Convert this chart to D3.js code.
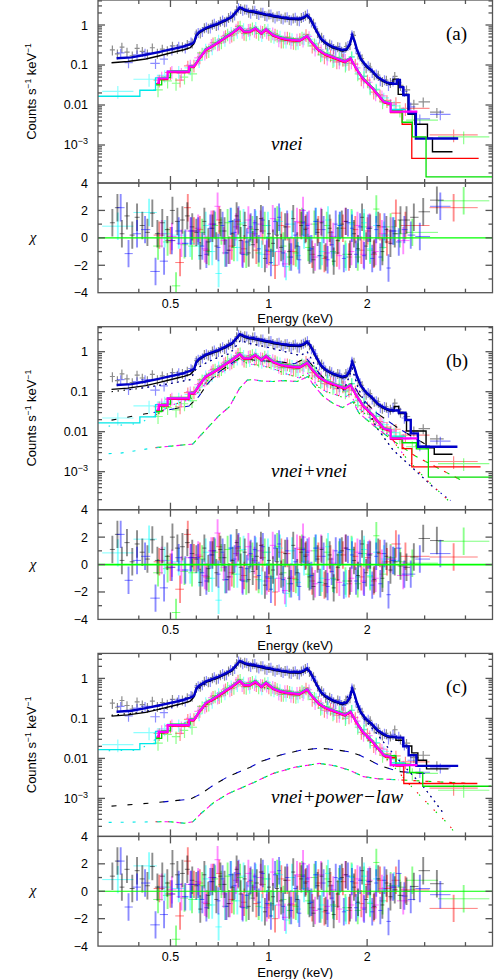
<!DOCTYPE html>
<html>
<head>
<meta charset="utf-8">
<script src="https://cdn.jsdelivr.net/npm/d3@7"></script>
<style>
body { margin: 0; background: #fff; }
svg { display: block; }
text { font-family: "Liberation Sans", Arial, sans-serif; fill: #000; }
.serif { font-family: "Liberation Serif", "Times New Roman", serif; }
</style>
</head>
<body>
<svg id="chart" width="496" height="979"></svg>
<script>
const panelTags = ['(a)', '(b)', '(c)'];
const modelNames = ['vnei', 'vnei+vnei', 'vnei+power\u2212law'];
const energyTicks = [0.5, 1, 2];
const energyMinor = [0.4, 0.6, 0.7, 0.8, 0.9, 3, 4];
const rateTicks = [1, 0.1, 0.01, 0.001];
const rateTickLabels = ['1', '0.1', '0.01', '10^\u22123'];
const chiTicks = [4, 2, 0, -2, -4];
const relErrHi = 0.28, relErrLo = 0.35;

// spectra (counts s-1 keV-1), same data in all three fits
const eBlk = [0.332,0.344,0.355,0.368,0.382,0.395,0.410,0.425,0.440,0.456,0.472,0.489,0.507,0.525,0.544,0.563,0.583,
  0.600,0.617,0.635,0.653,0.672,0.691,0.711,0.732,0.753,0.775,0.797,0.820,0.844,0.868,0.893,0.919,0.946,0.973,1.001,1.030,
  1.060,1.091,1.122,1.155,1.188,1.222,1.258,1.294,1.332,1.370,1.410,1.451,1.493,1.536,1.580,1.626,1.673,1.722,1.772,1.823,
  1.876,1.930,1.986,2.044,2.103,2.164,2.227,2.291,2.357, 2.43,2.53,2.64,2.78,2.97,3.27];
const rBlk = [0.24,0.19,0.28,0.21,0.17,0.26,0.22,0.19,0.27,0.20,0.25,0.23,0.30,0.26,0.29,0.33,0.36,
  0.60,0.64,0.86,0.84,1.05,0.98,1.25,1.22,1.55,1.60,2.40,2.60,2.55,2.10,2.35,1.95,2.10,1.75,1.90,1.62,
  1.70,1.50,1.60,1.38,1.52,1.33,1.55,1.78,1.50,1.12,0.66,0.50,0.34,0.34,0.26,0.29,0.22,0.29,0.33,0.55,
  0.19,0.145,0.087,0.089,0.058,0.056,0.039,0.042,0.037, 0.052,0.031,0.024,0.0105,0.012,0.0066];
const chiBlk = [1.1,2.2,0.3,1.6,0.2,1.5,0.9,0.4,1.8,0.3,1.1,0.6,2.0,1.2,1.3,1.6,0.8,
  0.4,-1.3,1.2,-0.3,0.7,-0.6,1.1,0.5,-0.9,0.3,1.6,-0.2,0.9,-1.1,-0.5,0.6,1.4,-1.5,0.3,-0.4,
  0.2,-0.7,0.8,-1.0,1.4,-0.6,0.9,0.6,-0.9,-1.6,0.4,1.1,-1.4,0.7,-1.7,-0.2,1.0,1.2,-1.2,0.3,
  -0.8,1.5,-0.6,0.7,-1.1,0.9,-1.0,0.6,-0.4];
const tailBlk = [[0.3,1.3,1.3,1.5,1.9,2.75], [0.2,-0.1,-0.2,0.55,1.9,1.75], [0.1,-0.3,0.0,0.35,1.5,0.55]];

const eBlu = [0.352,0.372,0.395,0.418,0.450,0.478,0.505,0.530,0.555,0.578,
  0.608,0.626,0.644,0.662,0.681,0.701,0.722,0.742,0.764,0.786,0.808,0.832,0.856,0.880,0.906,0.932,0.959,0.987,1.015,1.045,
  1.075,1.106,1.138,1.171,1.205,1.240,1.276,1.313,1.351,1.390,1.430,1.472,1.514,1.558,1.603,1.649,1.697,1.747,1.797,1.849,
  1.903,1.958,2.015,2.073,2.133,2.195,2.260,2.325, 2.40,2.50,2.60,2.72,2.90,3.35];
const rBlu = [0.20,0.115,0.18,0.20,0.11,0.14,0.24,0.30,0.27,0.38,
  0.66,0.70,0.90,0.85,1.12,1.02,1.35,1.25,1.70,1.80,2.75,2.35,2.50,2.00,2.38,1.85,2.10,1.70,1.92,1.52,
  1.75,1.42,1.62,1.35,1.58,1.30,1.65,1.90,1.20,0.90,0.48,0.44,0.30,0.32,0.24,0.28,0.21,0.31,0.58,0.26,
  0.17,0.10,0.097,0.066,0.06,0.041,0.043,0.031, 0.040,0.036,0.022,0.009,0.0045,0.0058];
const chiBlu = [2.2,-1.15,0.3,0.6,-2.45,-1.7,-0.2,0.5,-0.4,0.5,
  0.5,-0.6,-1.2,0.7,1.0,-0.7,0.9,-1.1,1.2,0.4,1.3,-1.2,-0.3,0.8,1.1,-0.8,1.3,-0.9,-1.8,1.2,
  1.5,-1.1,1.0,-1.4,0.2,-1.6,1.1,0.9,-0.8,1.2,-1.3,0.6,-1.6,-0.5,1.0,0.9,-1.5,1.1,0.7,-1.2,
  0.8,-1.3,0.7,-1.5,0.6,-1.4,0.8,-2.2];
const tailBlu = [[0.5,-0.3,0.6,0.2,0.1,2.3], [0.3,1.2,-0.7,-0.7,0.4,0.8], [0.3,1.3,-0.35,-0.6,0.2,-0.25]];

const eRed = [0.462,0.500,0.535,0.565,0.590,
  0.615,0.645,0.675,0.705,0.737,0.770,0.805,0.840,0.877,0.916,0.957,1.000,1.045,1.092,1.140,1.190,1.245,1.300,1.358,1.418,
  1.480,1.545,1.615,1.686,1.760,1.840,1.920,2.005,2.095,2.190, 2.30,2.45,2.62,3.68];
const rRed = [0.042,0.065,0.042,0.095,0.10,
  0.16,0.22,0.36,0.35,0.55,0.56,0.92,0.62,0.80,0.70,0.70,0.62,0.60,0.40,0.50,0.37,0.46,0.58,0.30,0.27,
  0.16,0.18,0.12,0.14,0.11,0.105,0.045,0.042,0.021,0.018, 0.013,0.0115,0.0082,0.0018];
const chiRed = [0.2,-0.2,-1.8,2.2,0.5,
  0.6,-0.9,1.0,1.3,-1.1,-0.6,1.2,-0.8,0.7,-0.9,0.5,-1.0,-2.0,0.9,0.8,-1.0,1.1,0.7,-1.2,0.6,
  -1.5,0.4,-1.1,0.7,-1.4,0.6,-0.9,0.5,-1.2,0.8];
const tailRed = [[-0.3,1.8,0.9,2.2], [0.2,1.5,0.6,0.55], [0.2,0.8,0.1,-1.25]];

const eGrn = [0.458,0.490,0.520,0.552,0.582,
  0.625,0.655,0.685,0.716,0.748,0.782,0.817,0.853,0.891,0.931,0.972,1.016,1.061,1.108,1.158,1.210,1.264,1.320,1.379,1.441,
  1.505,1.572,1.642,1.716,1.792,1.872,1.956,2.043,2.134,2.230, 2.36,2.52,2.75,3.95];
const rGrn = [0.024,0.040,0.035,0.050,0.060,
  0.20,0.23,0.37,0.38,0.60,0.60,0.95,0.60,0.85,0.62,0.78,0.55,0.56,0.40,0.48,0.36,0.50,0.44,0.34,0.18,
  0.20,0.13,0.15,0.10,0.16,0.06,0.052,0.027,0.024,0.012, 0.0098,0.0075,0.0042,0.0016];
const chiGrn = [-0.6,-0.3,-3.5,-0.5,-0.6,
  0.4,-1.0,0.9,0.5,1.1,-0.7,1.0,-1.2,0.6,-1.1,0.9,-0.9,1.3,-0.6,-1.4,-1.1,1.2,-0.7,1.0,-1.3,
  0.9,-1.0,0.7,-1.2,1.1,-1.4,0.8,-0.9,2.1,-0.7];
const tailGrn = [[0.8,0.3,0.4,2.7], [0.5,0.2,0.1,1.7], [0.4,0.3,0.8,-0.55]];

const eMag = [0.470,0.505,0.540,0.575,
  0.608,0.637,0.667,0.697,0.728,0.760,0.794,0.829,0.866,0.904,0.944,0.985,1.028,1.073,1.120,1.169,1.220,1.273,1.328,1.386,
  1.446,1.509,1.575,1.644,1.716,1.790,1.868,1.950,2.035,2.124, 2.22,2.36,2.58];
const rMag = [0.050,0.070,0.062,0.10,
  0.15,0.20,0.33,0.34,0.52,0.52,0.80,0.70,0.78,0.74,0.72,0.68,0.64,0.43,0.50,0.38,0.45,0.42,0.52,0.25,
  0.24,0.15,0.17,0.12,0.14,0.12,0.085,0.040,0.037,0.019, 0.017,0.0105,0.0065];
const chiMag = [0.3,0.1,-0.4,0.5,
  0.7,-0.8,1.0,2.3,-0.2,-0.9,0.8,-1.1,1.3,0.3,1.0,-1.2,1.4,-1.0,-1.9,-0.9,1.2,2.0,1.0,-1.4,
  1.2,-1.1,0.1,-1.3,1.2,-1.0,0.9,-1.2,0.8,-1.0];
const tailMag = [[0.3,0.5,-0.2], [0.1,0.4,-0.8], [0.2,0.3,-0.7]];

const eCyn = [0.345,0.430,0.480,0.530,0.575,
  0.612,0.641,0.671,0.702,0.734,0.767,0.801,0.837,0.874,0.912,0.952,0.994,1.037,1.082,1.129,1.178,1.229,1.282,1.337,1.395,
  1.455,1.518,1.584,1.652,1.723,1.798,1.876,1.957,2.042,2.131, 2.25,2.42];
const rCyn = [0.022,0.044,0.055,0.070,0.085,
  0.13,0.25,0.27,0.42,0.44,0.66,0.70,0.82,0.64,0.88,0.58,0.80,0.52,0.53,0.40,0.46,0.37,0.48,0.44,0.32,
  0.19,0.19,0.14,0.15,0.11,0.16,0.065,0.053,0.029,0.025, 0.015,0.0095];
const chiCyn = [0.85,1.85,0.3,0.2,-0.4,
  -0.6,0.9,-1.0,-2.6,-1.1,1.2,-0.7,1.1,0.4,1.0,-1.2,0.9,-1.0,1.2,-2.1,1.0,-1.3,0.2,-0.8,1.2,
  -1.0,1.3,-1.1,0.9,-1.4,1.0,-0.9,1.1,-0.8,0.9];
const tailCyn = [[0.2,0.5], [0.4,0.3], [0.1,0.4]];

// folded total models [keV, counts s-1 keV-1]
const modLowBlk = [[0.33,0.121],[0.37,0.13],[0.42,0.15],[0.46,0.178],[0.51,0.22],[0.55,0.255],[0.575,0.287],[0.59,0.36]];
const modLowBlu = [[0.342,0.147],[0.38,0.155],[0.42,0.18],[0.46,0.21],[0.5,0.245],[0.54,0.28],[0.575,0.33],[0.59,0.36]];
const modBulkHi = [[0.59,0.36],[0.60,0.56],[0.614,0.68],[0.64,0.83],[0.66,0.92],[0.68,1.0],[0.70,1.1],[0.73,1.28],[0.77,1.61],
  [0.80,2.3],[0.815,2.75],[0.83,2.6],[0.845,2.37],[0.87,2.25],[0.89,2.2],[0.92,2.08],[0.95,1.96],[0.98,1.85],[1.0,1.8],
  [1.04,1.68],[1.09,1.57],[1.15,1.47],[1.2,1.44],[1.25,1.45],[1.28,1.55],[1.31,1.78],[1.335,1.5],[1.36,1.15],[1.39,0.8],
  [1.42,0.58],[1.45,0.44],[1.5,0.35],[1.56,0.29],[1.62,0.26],[1.68,0.237],[1.73,0.25],[1.77,0.33],[1.80,0.56],[1.83,0.4],
  [1.86,0.25],[1.91,0.147],[1.96,0.11],[2.0,0.091],[2.06,0.075],[2.15,0.051],[2.25,0.04],[2.33,0.035]];
const modLowRed = [[0.452,0.036],[0.462,0.046],[0.49,0.068],[0.57,0.091],[0.59,0.091]];
const modLowGrn = [[0.45,0.03],[0.47,0.046],[0.5,0.068],[0.575,0.091],[0.59,0.091]];
const modLowMag = [[0.455,0.036],[0.46,0.046],[0.49,0.068],[0.57,0.091],[0.59,0.091]];
const modLowCyn = [[0.30,0.016],[0.403,0.0226],[0.45,0.046],[0.49,0.068],[0.57,0.091],[0.59,0.091]];
const modBulkLo = [[0.59,0.091],[0.61,0.139],[0.64,0.237],[0.68,0.316],[0.73,0.465],[0.77,0.62],[0.815,0.875],[0.84,0.68],
  [0.875,0.68],[0.91,0.83],[0.95,0.62],[0.98,0.78],[1.03,0.56],[1.08,0.48],[1.13,0.44],[1.24,0.405],[1.31,0.53],[1.35,0.38],
  [1.42,0.237],[1.49,0.185],[1.56,0.16],[1.65,0.135],[1.71,0.121],[1.78,0.147],[1.85,0.083],[1.94,0.046],[2.0,0.036],
  [2.08,0.026],[2.16,0.018],[2.25,0.012],[2.35,0.011]];

// high-energy model steps for fits (a), (b), (c)
const tailModBlk = [
  [[2.33,0.035],[2.40,0.047],[2.49,0.0195],[2.67,0.0062],[2.80,0.0035],[3.06,0.00155],[3.17,0.00072],[3.65,0.00072]],
  [[2.33,0.035],[2.42,0.045],[2.50,0.03],[2.64,0.011],[3.03,0.0042],[3.21,0.0029],[3.65,0.0029]],
  [[2.33,0.035],[2.45,0.03],[2.58,0.0216],[2.74,0.0146],[2.86,0.0095],[3.04,0.0058],[3.55,0.0058]]];
const tailModBlu = [
  [[2.33,0.035],[2.40,0.034],[2.47,0.042],[2.52,0.028],[2.58,0.0178],[2.68,0.0062],[2.82,0.00146],[3.80,0.00146]],
  [[2.33,0.035],[2.40,0.034],[2.50,0.03],[2.62,0.0196],[2.72,0.0091],[2.86,0.0042],[3.78,0.0042]],
  [[2.33,0.035],[2.45,0.033],[2.58,0.02],[2.68,0.012],[2.83,0.0065],[3.80,0.0065]]];
const tailModRed = [
  [[2.35,0.011],[2.36,0.0068],[2.56,0.0035],[2.74,0.00049],[4.39,0.00049]],
  [[2.35,0.011],[2.36,0.0068],[2.56,0.004],[2.74,0.0014],[4.45,0.0014]],
  [[2.35,0.011],[2.45,0.0068],[2.59,0.0025],[4.35,0.0025]]];
const tailModGrn = [
  [[2.35,0.011],[2.36,0.0068],[2.56,0.0035],[2.75,0.0015],[3.03,0.00015],[4.87,0.00015]],
  [[2.35,0.011],[2.36,0.0068],[2.56,0.005],[2.83,0.0035],[3.08,0.00069],[4.9,0.00069]],
  [[2.35,0.011],[2.45,0.0068],[2.7,0.0042],[2.96,0.0019],[4.8,0.0019]]];
const tailModMag = [
  [[2.35,0.011],[2.36,0.0068],[2.85,0.0068]],
  [[2.35,0.011],[2.36,0.0068],[2.85,0.0068]],
  [[2.35,0.011],[2.36,0.0068],[2.85,0.0068]]];
const tailModCyn = [
  [[2.35,0.011],[2.36,0.0075],[2.62,0.0075]],
  [[2.35,0.011],[2.36,0.0075],[2.62,0.0075]],
  [[2.35,0.011],[2.36,0.0075],[2.62,0.0075]]];

// model components, fit (b): vnei + vnei
const compHiB1 = [[0.33,0.1],[0.4,0.12],[0.5,0.16],[0.575,0.2],[0.6,0.38],[0.65,0.55],[0.7,0.72],[0.76,0.9],[0.8,1.5],
  [0.82,1.95],[0.86,1.65],[0.95,1.4],[1.05,1.15],[1.15,0.95],[1.25,0.8],[1.31,1.0],[1.36,0.6],[1.42,0.3],[1.5,0.18],
  [1.6,0.13],[1.7,0.11],[1.8,0.38],[1.86,0.15],[1.95,0.06],[2.13,0.0133],[2.4,0.0035],[2.8,0.0011],[3.2,0.0004],[3.6,0.00019]];
const compHiB2 = [[0.33,0.0195],[0.42,0.028],[0.5,0.036],[0.57,0.044],[0.61,0.075],[0.65,0.16],[0.7,0.3],[0.76,0.48],
  [0.82,0.72],[0.86,0.65],[0.92,0.6],[1.0,0.58],[1.1,0.55],[1.2,0.5],[1.3,0.7],[1.36,0.45],[1.47,0.22],[1.58,0.15],
  [1.68,0.12],[1.81,0.16],[1.89,0.085],[2.0,0.05],[2.13,0.03],[2.5,0.012],[3.0,0.005],[3.8,0.0022]];
const compLoB1 = [[0.31,0.0134],[0.40,0.016],[0.45,0.026],[0.5,0.045],[0.575,0.065],[0.61,0.1],[0.65,0.19],[0.7,0.26],
  [0.76,0.42],[0.815,0.7],[0.86,0.5],[0.95,0.45],[1.03,0.38],[1.13,0.28],[1.24,0.22],[1.31,0.3],[1.36,0.2],[1.42,0.13],
  [1.5,0.1],[1.6,0.085],[1.7,0.07],[1.78,0.09],[1.85,0.045],[1.95,0.03],[2.1,0.018],[2.35,0.0075],[2.6,0.0025],
  [3.0,0.0007],[3.57,0.00018]];
const compLoB2 = [[0.31,0.0028],[0.35,0.0029],[0.45,0.004],[0.585,0.0049],[0.64,0.011],[0.707,0.026],[0.758,0.042],
  [0.813,0.12],[0.86,0.196],[0.9,0.2],[0.95,0.185],[1.03,0.18],[1.1,0.19],[1.22,0.18],[1.32,0.24],[1.36,0.16],[1.47,0.075],
  [1.58,0.05],[1.68,0.04],[1.81,0.056],[1.89,0.029],[2.1,0.014],[2.4,0.006],[2.8,0.0025],[3.2,0.0014],[3.9,0.0006]];

// model components, fit (c): vnei + power-law
const compHiC1 = [[0.33,0.12],[0.4,0.14],[0.5,0.19],[0.575,0.27],[0.6,0.5],[0.65,0.8],[0.7,1.05],[0.77,1.55],[0.815,2.7],
  [0.87,2.2],[0.95,1.9],[1.05,1.65],[1.15,1.44],[1.25,1.42],[1.31,1.74],[1.36,1.12],[1.42,0.55],[1.5,0.33],[1.6,0.25],
  [1.68,0.22],[1.8,0.54],[1.86,0.24],[1.95,0.1],[2.1,0.05],[2.3,0.02],[2.58,0.0068],[3.0,0.0018],[3.4,0.00046],[3.7,0.00018]];
const compHiC2 = [[0.33,0.00064],[0.45,0.00078],[0.575,0.00096],[0.62,0.0013],[0.68,0.0022],[0.75,0.0035],[0.82,0.0048],
  [0.87,0.0058],[0.95,0.0085],[1.08,0.012],[1.25,0.016],[1.43,0.018],[1.6,0.0165],[1.76,0.0146],[1.9,0.012],[2.03,0.0091],
  [2.2,0.0065],[2.5,0.0047],[3.0,0.0042],[3.8,0.0036]];
const compLoC1 = [[0.31,0.0155],[0.40,0.016],[0.45,0.03],[0.5,0.06],[0.575,0.085],[0.61,0.135],[0.65,0.23],[0.7,0.33],
  [0.77,0.6],[0.815,0.86],[0.86,0.65],[0.91,0.8],[0.95,0.6],[1.03,0.54],[1.13,0.42],[1.24,0.39],[1.31,0.52],[1.35,0.37],
  [1.42,0.225],[1.56,0.15],[1.71,0.115],[1.78,0.14],[1.85,0.078],[1.94,0.042],[2.08,0.022],[2.35,0.008],[2.7,0.0022],
  [3.17,0.00056],[3.56,0.00022],[3.75,0.00012]];
const compLoC2 = [[0.31,0.00025],[0.45,0.00026],[0.5,0.00026],[0.55,0.00024],[0.585,0.00026],[0.62,0.00042],[0.68,0.0008],
  [0.75,0.0013],[0.82,0.0018],[0.9,0.0025],[1.03,0.0042],[1.2,0.006],[1.43,0.0075],[1.6,0.0065],[1.76,0.0051],[1.95,0.0035],
  [2.15,0.0031],[2.5,0.0029],[3.0,0.0027],[4.0,0.0024]];

const svg = d3.select('#chart');
const xL = 98, xR = 492.5, topH = 183, resBot = 292.7;
const panelTop = [0, 326.7, 653.4];
const frameCol = '#555';

const x = d3.scaleLog().domain([0.3, 4.84]).range([xL, xR]);

function binEdges(e) {
  const mid = d3.pairs(e, (a, b) => Math.sqrt(a * b));
  return {
    lo: [e[0] * e[0] / mid[0]].concat(mid),
    hi: mid.concat([e[e.length - 1] * e[e.length - 1] / mid[mid.length - 1]])
  };
}
const minus = v => String(v).replace('-', '\u2212');

const series = [
  {e: eBlk, r: rBlk, chi: chiBlk, tail: tailBlk, low: modLowBlk, mtail: tailModBlk, hi: true, col: '#000000', mcol: '#000000', mw: 1.4, dy: 1},
  {e: eBlu, r: rBlu, chi: chiBlu, tail: tailBlu, low: modLowBlu, mtail: tailModBlu, hi: true, col: '#0000ff', mcol: '#0000c8', mw: 2.4, dy: 0},
  {e: eRed, r: rRed, chi: chiRed, tail: tailRed, low: modLowRed, mtail: tailModRed, hi: false, col: '#ff0000', mcol: '#ff0000', mw: 1.3, dy: 1},
  {e: eGrn, r: rGrn, chi: chiGrn, tail: tailGrn, low: modLowGrn, mtail: tailModGrn, hi: false, col: '#00ff00', mcol: '#00e000', mw: 1.3, dy: -1},
  {e: eCyn, r: rCyn, chi: chiCyn, tail: tailCyn, low: modLowCyn, mtail: tailModCyn, hi: false, col: '#00ffff', mcol: '#00e8e8', mw: 1.3, dy: -0.6},
  {e: eMag, r: rMag, chi: chiMag, tail: tailMag, low: modLowMag, mtail: tailModMag, hi: false, col: '#ff00ff', mcol: '#ff00ff', mw: 2.2, dy: 0}
];
series.forEach(s => {
  const b = binEdges(s.e);
  s.lo = b.lo; s.hiE = b.hi;
  s.eMin = b.lo[0]; s.eMax = b.hi[b.hi.length - 1];
});
const residualOrder = [2, 3, 4, 5, 0, 1];

const panelComps = [
  [],
  [{pts: compHiB1, hi: true, dash: 1.5, period: 6},
   {pts: compHiB2, hi: true, dash: 5, period: 16},
   {pts: compLoB1, hi: false, dash: 1.5, period: 12},
   {pts: compLoB2, hi: false, dash: 3, period: 12}],
  [{pts: compHiC1, hi: true, dash: 1.5, period: 6},
   {pts: compHiC2, hi: true, dash: 5, period: 16},
   {pts: compLoC1, hi: false, dash: 1.5, period: 12},
   {pts: compLoC2, hi: false, dash: 3, period: 12}]
];

const defs = svg.append('defs');

panelTop.forEach((base, p) => {
  const y = d3.scaleLog().domain([1.122e-4, 4.217]).range([base + topH, base]);
  const yr = d3.scaleLinear().domain([-4, 4]).range([base + resBot, base + topH]);

  defs.append('clipPath').attr('id', 'ct' + p)
    .append('rect').attr('x', xL).attr('y', base).attr('width', xR - xL).attr('height', topH);
  defs.append('clipPath').attr('id', 'cr' + p)
    .append('rect').attr('x', xL).attr('y', base + topH).attr('width', xR - xL).attr('height', resBot - topH);

  const gt = svg.append('g').attr('clip-path', `url(#ct${p})`);
  const gr = svg.append('g').attr('clip-path', `url(#cr${p})`);

  // spectrum data crosses
  series.forEach(s => {
    const f = s.hi ? relErrHi : relErrLo;
    let d = '';
    s.e.forEach((e, i) => {
      const v = s.r[i];
      d += `M${x(s.lo[i])},${y(v)}H${x(s.hiE[i])}M${x(e)},${y(v * (1 + f))}V${y(v * (1 - f))}`;
    });
    gt.append('path').attr('d', d).attr('fill', 'none')
      .attr('stroke', s.col).attr('stroke-opacity', 0.45).attr('stroke-width', 1.2);
  });

  // components
  const lin = d3.line().x(d => x(d[0])).y(d => y(d[1]));
  panelComps[p].forEach(c => {
    const group = series.filter(s => s.hi === c.hi);
    group.forEach((s, k) => {
      const pts = c.pts.filter(d => d[0] >= s.eMin - 0.005 && d[0] <= s.eMax);
      gt.append('path').attr('d', lin(pts)).attr('fill', 'none')
        .attr('stroke', s.mcol).attr('stroke-width', 1.1)
        .attr('stroke-dasharray', `${c.dash},${c.period - c.dash}`)
        .attr('stroke-dashoffset', -k * c.period / group.length);
    });
  });

  // total models
  const step = d3.line().curve(d3.curveStepAfter).x(d => x(d[0])).y(d => y(d[1]));
  series.forEach(s => {
    const g = gt.append('g').attr('transform', `translate(0,${s.dy})`)
      .attr('fill', 'none').attr('stroke', s.mcol).attr('stroke-width', s.mw);
    g.append('path').attr('d', s.hi ? lin(s.low) : step(s.low));
    g.append('path').attr('d', lin(s.hi ? modBulkHi : modBulkLo));
    g.append('path').attr('d', step(s.mtail[p]));
  });

  // residuals
  residualOrder.forEach(j => {
    const s = series[j];
    const n = s.chi.length;
    let h = '', v = '';
    s.e.forEach((e, i) => {
      const c = i < n ? s.chi[i] : s.tail[p][i - n];
      h += `M${x(s.lo[i])},${yr(c)}H${x(s.hiE[i])}`;
      v += `M${x(e)},${yr(c + 1)}V${yr(c - 1)}`;
    });
    gr.append('path').attr('d', h).attr('fill', 'none')
      .attr('stroke', s.col).attr('stroke-opacity', 0.5).attr('stroke-width', 1);
    gr.append('path').attr('d', v).attr('fill', 'none')
      .attr('stroke', s.col).attr('stroke-opacity', 0.45).attr('stroke-width', 1.9);
  });
  gr.append('line').attr('x1', xL).attr('x2', xR).attr('y1', yr(0)).attr('y2', yr(0))
    .attr('stroke', '#00ff00').attr('stroke-width', p === 1 ? 1.8 : 1.1);

  // frames and ticks
  const fr = svg.append('g').attr('stroke', frameCol).attr('stroke-width', 1.3).attr('fill', 'none');
  fr.append('rect').attr('x', xL).attr('y', base).attr('width', xR - xL).attr('height', topH);
  fr.append('rect').attr('x', xL).attr('y', base + topH).attr('width', xR - xL).attr('height', resBot - topH);

  const xt = energyTicks.map(v => [v, 7]).concat(energyMinor.map(v => [v, 4]));
  [[base, 1], [base + topH, -1], [base + topH, 1], [base + resBot, -1]].forEach(([yy, dir]) => {
    xt.forEach(([v, len]) => {
      fr.append('line').attr('x1', x(v)).attr('x2', x(v)).attr('y1', yy).attr('y2', yy + dir * len);
    });
  });

  const yt = [];
  d3.range(-4, 1).forEach(dec => d3.range(1, 10).forEach(m => {
    const v = m * Math.pow(10, dec);
    if (v >= 1.122e-4 && v <= 4.217) yt.push([y(v), m === 1 ? 7 : 4]);
  }));
  d3.range(-3, 4).forEach(c => yt.push([yr(c), c % 2 === 0 ? 7 : 4]));
  yt.forEach(([yy, len]) => {
    fr.append('line').attr('x1', xL).attr('x2', xL + len).attr('y1', yy).attr('y2', yy);
    fr.append('line').attr('x1', xR).attr('x2', xR - len).attr('y1', yy).attr('y2', yy);
  });

  // tick labels
  rateTicks.forEach((v, i) => {
    const parts = rateTickLabels[i].split('^');
    const t = svg.append('text').attr('x', 88).attr('y', y(v) + 4.5)
      .attr('text-anchor', 'end').attr('font-size', 12.5).text(parts[0]);
    if (parts[1]) t.append('tspan').attr('dy', -5).attr('font-size', 9).text(parts[1]);
  });
  chiTicks.forEach(v => {
    svg.append('text').attr('x', 88).attr('y', yr(v) + 4.5)
      .attr('text-anchor', 'end').attr('font-size', 12.5).text(minus(v));
  });
  energyTicks.forEach(v => {
    svg.append('text').attr('x', x(v)).attr('y', base + 307.5)
      .attr('text-anchor', 'middle').attr('font-size', 12.5).text(v);
  });

  // axis titles
  svg.append('text').attr('x', (xL + xR) / 2).attr('y', base + 323.3)
    .attr('text-anchor', 'middle').attr('font-size', 13).text('Energy (keV)');
  const yl = svg.append('text').attr('transform', `translate(35.5,${base + topH / 2}) rotate(-90)`)
    .attr('text-anchor', 'middle').attr('font-size', 13).text('Counts s');
  yl.append('tspan').attr('dy', -5).attr('font-size', 8.5).text('\u22121');
  yl.append('tspan').attr('dy', 5).text(' keV');
  yl.append('tspan').attr('dy', -5).attr('font-size', 8.5).text('\u22121');
  svg.append('text').attr('class', 'serif').attr('x', 33).attr('y', base + 242)
    .attr('text-anchor', 'middle').attr('font-size', 15).attr('font-style', 'italic').text('\u03c7');

  // panel tag and model name
  svg.append('text').attr('class', 'serif').attr('x', 446).attr('y', base + 40)
    .attr('font-size', 19).text(panelTags[p]);
  svg.append('text').attr('class', 'serif').attr('x', 271).attr('y', base + 150)
    .attr('font-size', 19).attr('font-style', 'italic').text(modelNames[p]);
});
</script>
</body>
</html>
